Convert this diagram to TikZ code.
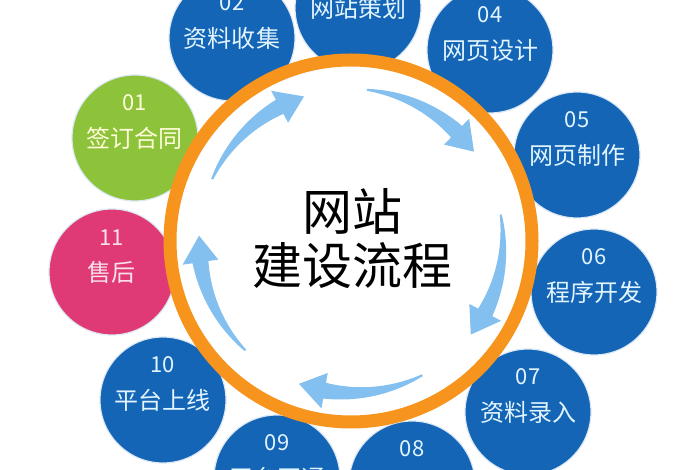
\documentclass[tikz,border=0pt]{standalone}
\usepackage{fontspec}
\setmainfont{Noto Sans CJK SC}
\definecolor{stepblue}{HTML}{1565B6}
\definecolor{stepgreen}{HTML}{8DC33A}
\definecolor{steppink}{HTML}{E03A76}
\definecolor{ringorange}{HTML}{F7941D}
\definecolor{arrowblue}{HTML}{84C0EF}
\definecolor{lighttext}{HTML}{E2F5FF}

\newcommand\flowarrow[1]{%
    \pgfmathsetmacro\arrA{#1}\pgfmathsetmacro\arrB{#1-38}\pgfmathsetmacro\arrC{#1-48}%
    \fill [arrowblue] plot [domain=\arrA:\arrB, samples=25] (\x:{153+7*(\arrA-(\x))/38})
        -- (\arrB:170) -- (\arrC:152) -- (\arrB:134)
        -- plot [domain=\arrB:\arrA, samples=25] (\x:{151-7*(\arrA-(\x))/38}) -- cycle;}

\begin{document}
\begin{tikzpicture}[x=1pt, y=1pt,
        ball/.style={circle, minimum size=126pt, inner sep=0pt, fill=stepblue,
            draw=white!85!stepblue, line width=1.2pt, text=lighttext,
            font=\fontsize{24}{28}\selectfont},
        num/.style={inner sep=0pt, label distance=-37pt, text=lighttext,
            font=\fontsize{22}{26}\selectfont}]
    \useasboundingbox (-351,-229) rectangle (349,241);

    \node [ball] (c) at (7,233) {网站策划};
    \node [ball, label={[num]above:04}] (d) at (139,191) {网页设计};
    \node [ball, label={[num]above:05}] (e) at (226,86) {网页制作};
    \node [ball, label={[num]above:06}] (f) at (243,-51) {程序开发};
    \node [ball, label={[num]above:07}] (g) at (177,-171) {资料录入};
    \node [ball, label={[num]above:08}] (h) at (61,-243) {};
    \node [ball, label={[num]above:09}] (i) at (-74,-237) {平台开通};
    \node [ball, label={[num]above:10}] (j) at (-188,-159) {平台上线};
    \node [ball, fill=steppink, text=white!85!steppink,
        label={[num, text=white!85!steppink]above:11}] (k) at (-239,-31) {售后};
    \node [ball, fill=stepgreen, text=yellow!15!white,
        label={[num, text=yellow!15!white]above:01}] (a) at (-216,103) {签订合同};
    \node [ball, label={[num]above:02}] (b) at (-119,203) {资料收集};

    \draw [ringorange, line width=13pt, fill=white] (0,0) circle (181);

    \flowarrow{156}
    \flowarrow{84}
    \flowarrow{10}
    \flowarrow{-62}
    \flowarrow{-134}

    \node [align=center, font=\fontsize{50}{54}\selectfont] (m) at (1,2) {网站\\建设流程};
\end{tikzpicture}
\end{document}
